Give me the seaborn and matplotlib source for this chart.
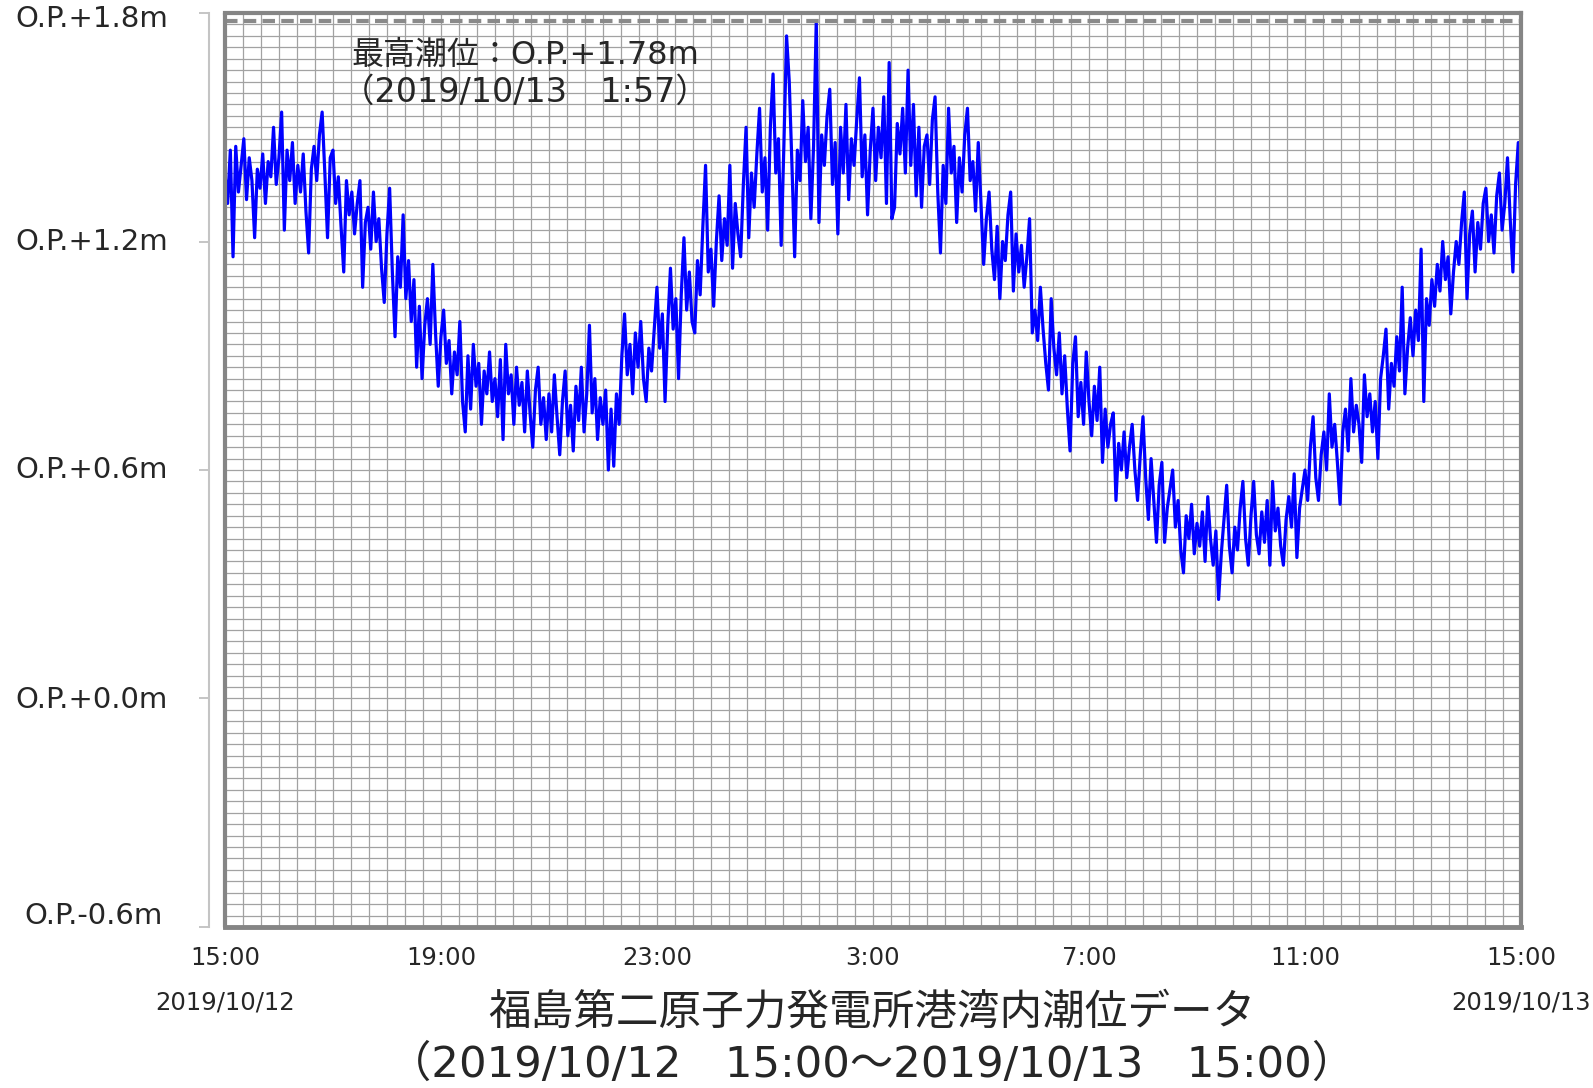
import numpy as np
import pandas as pd
import seaborn as sns
import matplotlib.pyplot as plt
from matplotlib.ticker import MultipleLocator

# tide level (m, O.P.), one value every 3 minutes
# 15:00 - 20:57
level_15_21 = [
    1.38, 1.30, 1.44, 1.16, 1.45, 1.33, 1.40, 1.47, 1.31, 1.42, 1.36, 1.21, 1.39, 1.34, 1.43, 1.30, 1.41, 1.37, 1.50, 1.35,
    1.42, 1.54, 1.23, 1.44, 1.36, 1.46, 1.30, 1.40, 1.33, 1.43, 1.28, 1.17, 1.39, 1.45, 1.36, 1.48, 1.54, 1.38, 1.21, 1.42,
    1.44, 1.30, 1.37, 1.24, 1.12, 1.36, 1.27, 1.33, 1.22, 1.30, 1.36, 1.08, 1.25, 1.29, 1.18, 1.33, 1.20, 1.26, 1.13, 1.04,
    1.22, 1.34, 1.12, 0.95, 1.16, 1.08, 1.27, 1.05, 1.15, 0.99, 1.10, 0.87, 1.03, 0.84, 0.98, 1.05, 0.93, 1.14, 0.96, 0.82,
    0.95, 1.02, 0.88, 0.94, 0.80, 0.91, 0.85, 0.99, 0.78, 0.70, 0.90, 0.76, 0.93, 0.82, 0.88, 0.72, 0.86, 0.80, 0.91, 0.78,
    0.84, 0.74, 0.89, 0.68, 0.93, 0.80, 0.85, 0.72, 0.87, 0.77, 0.83, 0.70, 0.86, 0.75, 0.66, 0.81, 0.87, 0.72, 0.79, 0.68,
]
# 21:00 - 2:57
level_21_03 = [
    0.80, 0.70, 0.85, 0.74, 0.64, 0.78, 0.86, 0.69, 0.77, 0.65, 0.82, 0.73, 0.87, 0.70, 0.80, 0.98, 0.75, 0.84, 0.68, 0.79,
    0.72, 0.81, 0.60, 0.76, 0.61, 0.80, 0.72, 0.90, 1.01, 0.85, 0.93, 0.80, 0.96, 0.87, 0.99, 0.84, 0.78, 0.92, 0.86, 0.97,
    1.08, 0.92, 1.01, 0.78, 0.98, 1.13, 0.97, 1.05, 0.84, 1.06, 1.21, 1.02, 1.12, 0.99, 0.96, 1.15, 1.06, 1.24, 1.40, 1.12,
    1.18, 1.03, 1.20, 1.32, 1.15, 1.26, 1.19, 1.40, 1.13, 1.30, 1.22, 1.16, 1.35, 1.50, 1.21, 1.38, 1.29, 1.43, 1.55, 1.33,
    1.42, 1.23, 1.50, 1.64, 1.38, 1.47, 1.19, 1.45, 1.74, 1.62, 1.40, 1.16, 1.44, 1.36, 1.57, 1.41, 1.50, 1.26, 1.45, 1.78,
    1.25, 1.48, 1.40, 1.53, 1.60, 1.35, 1.46, 1.22, 1.50, 1.38, 1.56, 1.31, 1.47, 1.40, 1.52, 1.63, 1.37, 1.48, 1.27, 1.44,
]
# 3:00 - 8:57
level_03_09 = [
    1.55, 1.36, 1.50, 1.42, 1.58, 1.30, 1.67, 1.26, 1.29, 1.51, 1.43, 1.55, 1.38, 1.65, 1.40, 1.56, 1.32, 1.50, 1.29, 1.45,
    1.48, 1.35, 1.52, 1.58, 1.33, 1.17, 1.40, 1.30, 1.55, 1.38, 1.45, 1.25, 1.42, 1.33, 1.48, 1.55, 1.36, 1.41, 1.28, 1.46,
    1.30, 1.14, 1.26, 1.33, 1.18, 1.10, 1.24, 1.05, 1.20, 1.15, 1.27, 1.33, 1.07, 1.22, 1.12, 1.19, 1.08, 1.16, 1.26, 0.96,
    1.02, 0.94, 1.08, 0.97, 0.88, 0.81, 1.05, 0.92, 0.85, 0.96, 0.80, 0.90, 0.76, 0.65, 0.88, 0.95, 0.74, 0.83, 0.72, 0.91,
    0.78, 0.69, 0.82, 0.73, 0.87, 0.62, 0.76, 0.66, 0.72, 0.75, 0.52, 0.67, 0.60, 0.70, 0.58, 0.66, 0.72, 0.60, 0.52, 0.64,
    0.74, 0.58, 0.47, 0.63, 0.52, 0.41, 0.56, 0.62, 0.41, 0.50, 0.55, 0.60, 0.45, 0.52, 0.39, 0.33, 0.48, 0.42, 0.51, 0.38,
]
# 9:00 - 15:00
level_09_15 = [
    0.46, 0.40, 0.49, 0.36, 0.53, 0.42, 0.35, 0.44, 0.26, 0.38, 0.47, 0.56, 0.40, 0.33, 0.45, 0.39, 0.50, 0.57, 0.42, 0.35,
    0.48, 0.57, 0.43, 0.38, 0.49, 0.41, 0.52, 0.35, 0.57, 0.44, 0.50, 0.40, 0.35, 0.47, 0.53, 0.45, 0.59, 0.37, 0.50, 0.55,
    0.60, 0.52, 0.66, 0.74, 0.58, 0.52, 0.64, 0.70, 0.60, 0.80, 0.66, 0.72, 0.62, 0.51, 0.70, 0.76, 0.65, 0.84, 0.70, 0.77,
    0.72, 0.62, 0.85, 0.74, 0.80, 0.70, 0.78, 0.63, 0.84, 0.90, 0.97, 0.76, 0.88, 0.82, 0.95, 0.86, 1.08, 0.80, 0.92, 1.00,
    0.90, 1.02, 0.94, 1.18, 0.78, 1.05, 0.98, 1.10, 1.03, 1.14, 1.07, 1.20, 1.10, 1.16, 1.01, 1.12, 1.20, 1.14, 1.25, 1.33,
    1.05, 1.22, 1.28, 1.12, 1.25, 1.18, 1.30, 1.34, 1.20, 1.27, 1.17, 1.32, 1.38, 1.23, 1.30, 1.42, 1.26, 1.12, 1.35, 1.46,
    1.22,
]

max_level = 1.78
hour_ticks = [0, 240, 480, 720, 960, 1200, 1440]
hour_labels = ['15:00', '19:00', '23:00', '3:00', '7:00', '11:00', '15:00']
y_ticks = [1.8, 1.2, 0.6, 0.0, -0.6]
y_labels = ['O.P.+1.8m', 'O.P.+1.2m', 'O.P.+0.6m', 'O.P.+0.0m', 'O.P.-0.6m']

level = level_15_21 + level_21_03 + level_03_09 + level_09_15
df = pd.DataFrame({'minute': np.arange(len(level)) * 3, 'level': level})

sns.set_theme(style='white')
plt.rcParams['font.family'] = ['DejaVu Sans', 'Noto Sans CJK JP']

fig = plt.figure(figsize=(15.93, 10.88), dpi=100)
ax = fig.add_axes([0.1412, 0.148, 0.8136, 0.840])

sns.lineplot(data=df, x='minute', y='level', ax=ax, color='#0000ff', lw=2.3)
ax.axhline(max_level, color='#8a8a8a', lw=3, ls=(0, (3, 1.5)))

ax.set_xlim(0, 1440)
ax.set_ylim(-0.6, 1.8)
ax.set_xticks(hour_ticks, hour_labels)
ax.set_yticks(y_ticks, [''] * len(y_ticks))
ax.xaxis.set_minor_locator(MultipleLocator(20))
ax.yaxis.set_minor_locator(MultipleLocator(0.03))
ax.grid(which='both', color='#a2a2a2', lw=0.9)
ax.set_xlabel('')
ax.set_ylabel('')

ax.tick_params(axis='x', which='both', length=0, labelsize=17.5, pad=14)
ax.tick_params(axis='y', which='major', left=True, length=7, width=1.2, color='#bbbbbb')
ax.tick_params(axis='y', which='minor', length=0)

# y labels drawn as text: the end ones sit a little inside the range
yt = ax.get_yaxis_transform()
label_shift = [-0.016, 0.0, 0.0, -0.004, 0.029]
label_x = [-0.044, -0.044, -0.044, -0.044, -0.048]
for v, s, dy, lx in zip(y_ticks, y_labels, label_shift, label_x):
    ax.text(lx, v + dy, s, transform=yt, ha='right', va='center', fontsize=21)

for s in ['top', 'right', 'bottom']:
    ax.spines[s].set_color('#858585')
    ax.spines[s].set_linewidth(3)
ax.spines['bottom'].set_linewidth(3.5)
ax.spines['left'].set_position(('outward', 11.5))
ax.spines['left'].set_color('#c4c4c4')
ax.spines['left'].set_linewidth(1.5)
ax.axvline(0, color='#858585', lw=3, clip_on=False)

# max tide annotation
ax.text(0.2315, 0.9535, '最高潮位：O.P.+1.78m', transform=ax.transAxes,
        ha='center', va='center', fontsize=23)
ax.text(0.2315, 0.9135, '（2019/10/13　1:57）', transform=ax.transAxes,
        ha='center', va='center', fontsize=24)

# dates under the end ticks
xt = ax.get_xaxis_transform()
ax.text(0, -0.083, '2019/10/12', transform=xt, ha='center', va='center', fontsize=17.5)
ax.text(1440, -0.083, '2019/10/13', transform=xt, ha='center', va='center', fontsize=17.5)

fig.text(0.547, 0.0698, '福島第二原子力発電所港湾内潮位データ', ha='center', va='center', fontsize=30.7)
fig.text(0.547, 0.0212, '（2019/10/12　15:00～2019/10/13　15:00）', ha='center', va='center', fontsize=31.2)

fig.savefig('out.png', dpi=100)
